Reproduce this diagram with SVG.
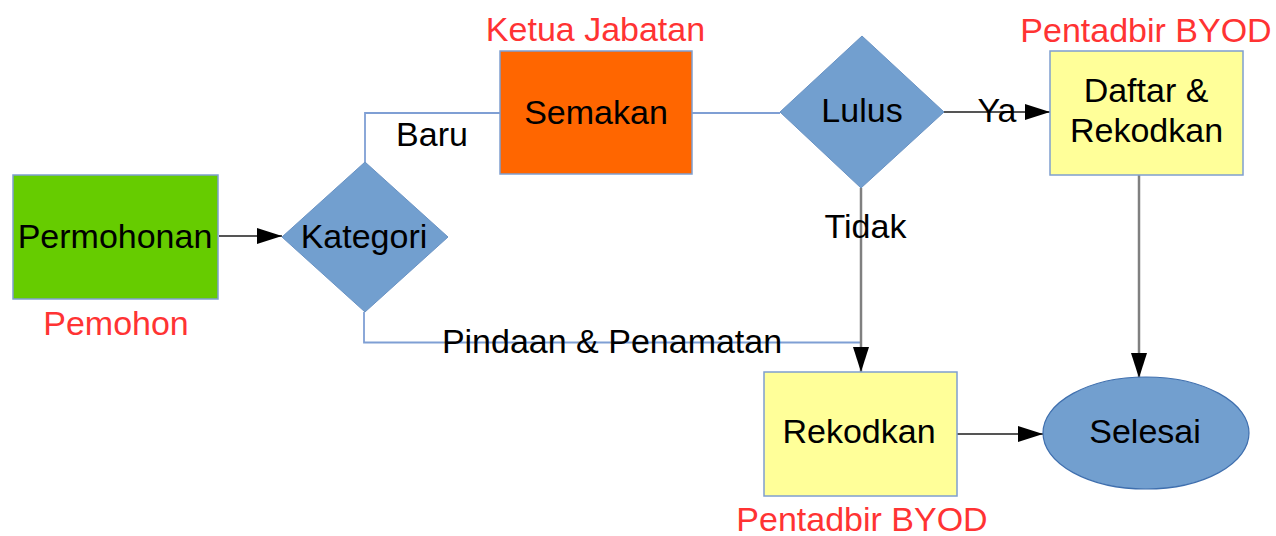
<svg xmlns="http://www.w3.org/2000/svg" width="1276" height="536" viewBox="0 0 1276 536">
<style>
text{font-family:"Liberation Sans",Arial,sans-serif;font-size:34px;text-anchor:middle;fill:#000}
.role{fill:#FF3333}
.box{stroke:#7f9fcf;stroke-width:1.5}
.dia{fill:#729fcf;stroke:#6a93c4;stroke-width:1}
.blue{fill:none;stroke:#7f9fd4;stroke-width:1.8}
.gray{fill:none;stroke:#808080;stroke-width:2.5}
.dark{fill:none;stroke:#555555;stroke-width:1.8}
</style>
<defs>
<marker id="ah" markerUnits="userSpaceOnUse" markerWidth="25" markerHeight="16" refX="25" refY="8" orient="auto">
<path d="M0,0 L25,8 L0,16 z" fill="#000"/>
</marker>
</defs>
<rect width="1276" height="536" fill="#fff"/>
<g id="connectors">
<path class="blue" d="M365,162 V113 H500"/>
<path class="blue" d="M692,113 H780"/>
<path class="blue" d="M364,312 V342.5 H860"/>
<path class="dark" d="M219,236 H282" marker-end="url(#ah)"/>
<path class="dark" d="M944,112 H1050" marker-end="url(#ah)"/>
<path class="gray" d="M861,188 V372" marker-end="url(#ah)"/>
<path class="gray" d="M1139,175 V378" marker-end="url(#ah)"/>
<path class="dark" d="M957,434 H1043" marker-end="url(#ah)"/>
<text x="432" y="146">Baru</text>
<text x="997" y="122">Ya</text>
<text x="865.5" y="238">Tidak</text>
<text x="612" y="353">Pindaan &amp; Penamatan</text>
</g>
<g id="permohonan">
<rect class="box" x="13" y="175" width="205" height="124" fill="#66CC00"/>
<text x="115" y="248">Permohonan</text>
<text class="role" x="116" y="335">Pemohon</text>
</g>
<g id="kategori">
<polygon class="dia" points="365,162 448,237 365,312 282,237"/>
<text x="364" y="248">Kategori</text>
</g>
<g id="semakan">
<rect class="box" x="500" y="51" width="192" height="123" fill="#FF6600"/>
<text x="596" y="124">Semakan</text>
<text class="role" x="595.5" y="41">Ketua Jabatan</text>
</g>
<g id="lulus">
<polygon class="dia" points="862,36 944,112 861,188 780,112"/>
<text x="862" y="122">Lulus</text>
</g>
<g id="daftar">
<rect class="box" x="1050" y="51" width="193" height="124" fill="#FFFF99"/>
<text x="1146" y="102">Daftar &amp;</text>
<text x="1146.5" y="142">Rekodkan</text>
<text class="role" x="1146" y="42">Pentadbir BYOD</text>
</g>
<g id="rekodkan">
<rect class="box" x="764" y="372" width="193" height="124" fill="#FFFF99"/>
<text x="859" y="443">Rekodkan</text>
<text class="role" x="862" y="531">Pentadbir BYOD</text>
</g>
<g id="selesai">
<ellipse cx="1146" cy="433" rx="103" ry="56" fill="#729fcf" stroke="#3f6fae" stroke-width="1.2"/>
<text x="1145" y="443">Selesai</text>
</g>
</svg>
